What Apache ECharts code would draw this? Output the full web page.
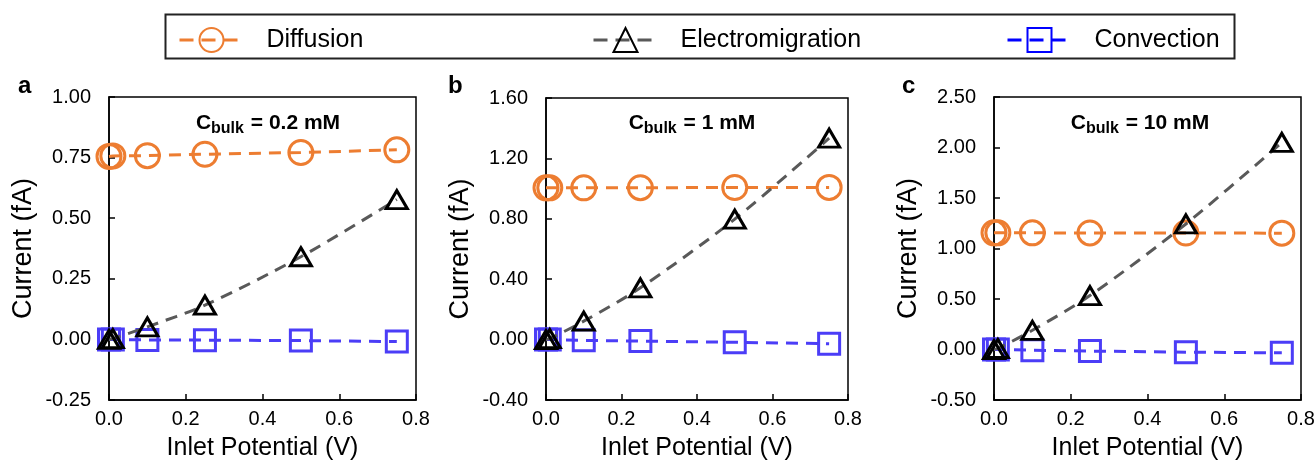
<!DOCTYPE html>
<html>
<head>
<meta charset="utf-8">
<script src="https://cdn.jsdelivr.net/npm/echarts@6/dist/echarts.min.js"></script>
<style>
  html, body { margin: 0; padding: 0; background: #fff; }
  #chart { width: 1314px; height: 465px; }
</style>
</head>
<body>
<div id="chart"></div>
<script>
// inlet potential (V)
const potentials = [0, 0.01, 0.1, 0.25, 0.5, 0.75]

// panel a, C bulk = 0.2 mM
const diffusionA = [0.755, 0.757, 0.758, 0.764, 0.771, 0.782]
const electroA = [0, 0.003, 0.052, 0.141, 0.341, 0.577]
const convectionA = [0, 0, -0.002, -0.003, -0.005, -0.009]

// panel b, C bulk = 1 mM
const diffusionB = [1.005, 1.005, 1.005, 1.006, 1.007, 1.008]
const electroB = [0, 0.006, 0.122, 0.343, 0.798, 1.334]
const convectionB = [0, 0, -0.005, -0.010, -0.018, -0.027]

// panel c, C bulk = 10 mM
const diffusionC = [1.155, 1.155, 1.155, 1.154, 1.153, 1.152]
const electroC = [0, 0.01, 0.19, 0.534, 1.243, 2.05]
const convectionC = [0, 0, -0.007, -0.016, -0.026, -0.033]

const panelLetters = ["a", "b", "c"]
const concLabels = ["0.2 mM", "1 mM", "10 mM"]
const yMin = [-0.25, -0.4, -0.5]
const yMax = [1.0, 1.6, 2.5]
const yStep = [0.25, 0.4, 0.5]

const FONT = "Liberation Sans, Arial, sans-serif"
const ORANGE = "#ED7D31"
const GREY = "#595959"
const BLUE = "#4B3DF7"

// 绘图区域位置
const grids = [
  { left: 109, top: 97, width: 307, height: 303 },
  { left: 546, top: 98, width: 302, height: 302 },
  { left: 994, top: 97, width: 307, height: 303 }
]

const pairs = (ys) => potentials.map((x, i) => [x, ys[i]])

const chart = echarts.init(document.getElementById("chart"))

const panels = [
  [diffusionA, electroA, convectionA],
  [diffusionB, electroB, convectionB],
  [diffusionC, electroC, convectionC]
]

const series = []
panels.forEach((p, i) => {
  series.push({
    name: "Diffusion",
    type: "line",
    xAxisIndex: i,
    yAxisIndex: i,
    data: pairs(p[0]),
    symbol: "circle",
    symbolSize: 24,
    lineStyle: { color: ORANGE, width: 3, type: [12, 8] },
    itemStyle: { color: "rgba(0,0,0,0)", borderColor: ORANGE, borderWidth: 3 },
    z: 3
  })
  series.push({
    name: "Electromigration",
    type: "line",
    xAxisIndex: i,
    yAxisIndex: i,
    data: pairs(p[1]),
    smooth: 0.3,
    symbol: "triangle",
    symbolSize: [21, 18],
    lineStyle: { color: GREY, width: 3, type: [12, 8] },
    itemStyle: { color: "rgba(0,0,0,0)", borderColor: "#000", borderWidth: 3 },
    z: 4
  })
  series.push({
    name: "Convection",
    type: "line",
    xAxisIndex: i,
    yAxisIndex: i,
    data: pairs(p[2]),
    symbol: "rect",
    symbolSize: 21,
    lineStyle: { color: BLUE, width: 3, type: [12, 8] },
    itemStyle: { color: "rgba(0,0,0,0)", borderColor: BLUE, borderWidth: 3 },
    z: 2
  })
})

const axisLineStyle = { show: true, onZero: false, lineStyle: { color: "#000", width: 1.5 } }
const tickStyle = { show: true, inside: true, length: 6, lineStyle: { color: "#000", width: 1.5 } }

const xAxes = grids.map((g, i) => ({
  type: "value",
  gridIndex: i,
  min: 0,
  max: 0.8,
  interval: 0.2,
  axisLine: axisLineStyle,
  axisTick: tickStyle,
  splitLine: { show: false },
  axisLabel: {
    formatter: (v) => v.toFixed(1),
    fontSize: 20,
    color: "#000",
    fontFamily: FONT,
    margin: 9
  },
  name: "Inlet Potential (V)",
  nameLocation: "middle",
  nameGap: 36,
  nameTextStyle: { fontSize: 25, color: "#000", fontFamily: FONT }
}))

const yAxes = grids.map((g, i) => ({
  type: "value",
  gridIndex: i,
  min: yMin[i],
  max: yMax[i],
  interval: yStep[i],
  axisLine: axisLineStyle,
  axisTick: tickStyle,
  splitLine: { show: false },
  axisLabel: {
    formatter: (v) => v.toFixed(2),
    fontSize: 20,
    color: "#000",
    fontFamily: FONT,
    margin: 18
  },
  name: "Current (fA)",
  nameLocation: "middle",
  nameGap: 72,
  nameTextStyle: { fontSize: 27, color: "#000", fontFamily: FONT }
}))

// 图例：三个独立图例，固定列位置
const legendLefts = [173, 587, 1001]
const legendNames = ["Diffusion", "Electromigration", "Convection"]
const legends = legendNames.map((name, i) => ({
  data: [i === 2
    ? { name, itemStyle: { borderColor: "#0000FF" }, lineStyle: { color: "#0000FF" } }
    : name],
  left: legendLefts[i],
  top: 22,
  itemWidth: 64,
  itemHeight: 30,
  selectedMode: false,
  lineStyle: { width: 3, type: [14, 8] },
  textStyle: { fontSize: 25, color: "#000", fontFamily: FONT, padding: [0, 0, 0, 18] }
}))

const graphics = [
  {
    type: "rect",
    shape: { x: 165.5, y: 14.5, width: 1069, height: 44 },
    style: { fill: "none", stroke: "#222", lineWidth: 2 },
    silent: true
  }
]
const letterX = [18, 448, 902]
const titleX = [268, 692, 1140]
grids.forEach((g, i) => {
  graphics.push({
    type: "text",
    x: letterX[i],
    y: 86,
    style: {
      text: panelLetters[i],
      font: "bold 24px " + FONT,
      fill: "#000",
      verticalAlign: "middle"
    }
  })
  graphics.push({
    type: "text",
    x: titleX[i],
    y: 123,
    style: {
      text: "{b|C}{s|bulk}{b| = " + concLabels[i] + "}",
      align: "center",
      verticalAlign: "middle",
      rich: {
        b: { fontSize: 21, fontWeight: "bold", fontFamily: FONT, fill: "#000", lineHeight: 28, verticalAlign: "middle" },
        s: { fontSize: 16, fontWeight: "bold", fontFamily: FONT, fill: "#000", lineHeight: 28, verticalAlign: "bottom", padding: [0, 1, 0, 0] }
      }
    }
  })
})

const option = {
  animation: false,
  backgroundColor: "#fff",
  textStyle: { fontFamily: FONT },
  grid: grids.map((g) => ({
    ...g,
    show: true,
    borderColor: "#000",
    borderWidth: 1.5,
    outerBoundsMode: "none"
  })),
  legend: legends,
  xAxis: xAxes,
  yAxis: yAxes,
  series: series,
  graphic: graphics
}
chart.setOption(option)
</script>
</body>
</html>
